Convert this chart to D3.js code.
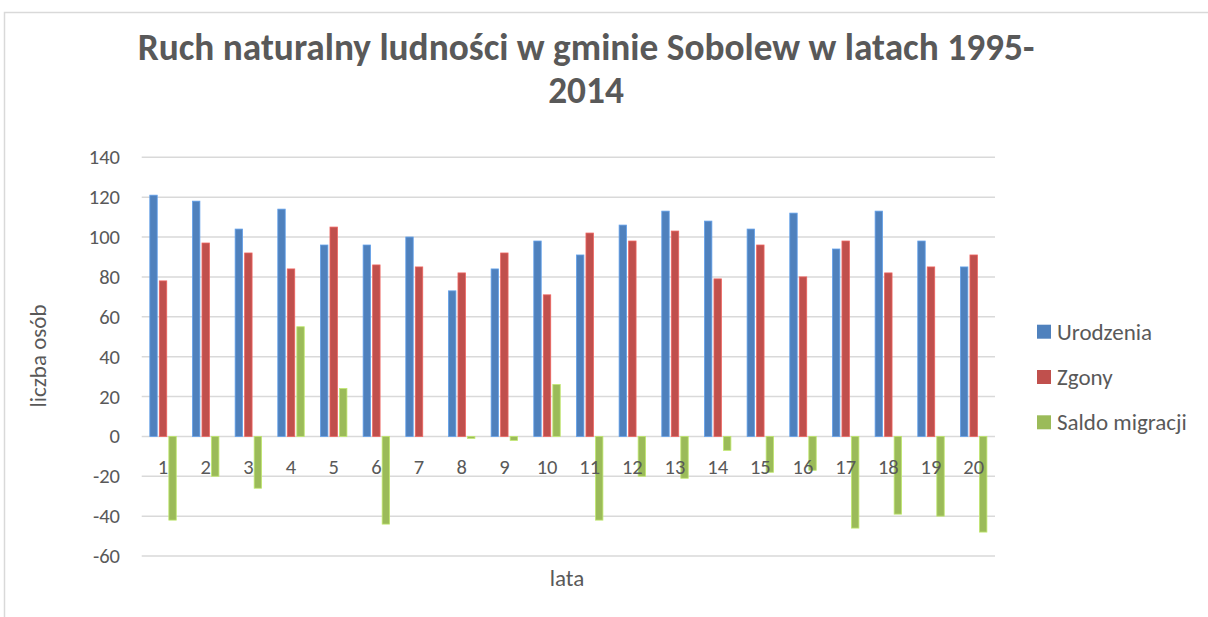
<!DOCTYPE html>
<html>
<head>
<meta charset="utf-8">
<script src="https://cdn.jsdelivr.net/npm/d3@7"></script>
<style>
  body { margin: 0; background: #fff; }
  svg { display: block; font-family: Calibri, Carlito, Lato, "Open Sans", sans-serif; }
</style>
</head>
<body>
<svg id="chart" width="1208" height="617"></svg>
<script>
// lata 1..20 (1995-2014)
const years = d3.range(1, 21).map(String);
const seriesNames = ["Urodzenia", "Zgony", "Saldo migracji"];
const colors = ["#4F81BD", "#C0504D", "#9BBB59"];

const urodzenia = [121, 118, 104, 114, 96, 96, 100, 73, 84, 98, 91, 106, 113, 108, 104, 112, 94, 113, 98, 85];
const zgony = [78, 97, 92, 84, 105, 86, 85, 82, 92, 71, 102, 98, 103, 79, 96, 80, 98, 82, 85, 91];
const saldo = [-42, -20, -26, 55, 24, -44, 0, -1, -2, 26, -42, -20, -21, -7, -18, -17, -46, -39, -40, -48];

const yTicks = [-60, -40, -20, 0, 20, 40, 60, 80, 100, 120, 140];

const seriesValues = [urodzenia, zgony, saldo];

const W = 1208, H = 617;
const margin = { left: 141.7, right: 995, top: 157.3, bottom: 556 };

const svg = d3.select("#chart");

// ramka wykresu
svg.append("rect")
  .attr("x", 4.5).attr("y", 12.5)
  .attr("width", W + 20).attr("height", H + 20)
  .attr("fill", "none")
  .attr("stroke", "#d9d9d9")
  .attr("stroke-width", 1.5);

const x0 = d3.scaleBand().domain(years).range([margin.left, margin.right]);
const groupW = x0.bandwidth() * 0.62;
const x1 = d3.scaleBand().domain(seriesNames).range([0, groupW]).paddingInner(0.22);
const y = d3.scaleLinear().domain([-60, 140]).range([margin.bottom, margin.top]);

// siatka
svg.append("g")
  .selectAll("line")
  .data(yTicks)
  .join("line")
  .attr("x1", margin.left).attr("x2", margin.right)
  .attr("y1", (d) => y(d)).attr("y2", (d) => y(d))
  .attr("stroke", "#d9d9d9")
  .attr("stroke-width", 1.5);

// etykiety osi Y
svg.append("g")
  .selectAll("text")
  .data(yTicks)
  .join("text")
  .attr("x", 120)
  .attr("y", (d) => y(d))
  .attr("text-anchor", "end")
  .attr("dominant-baseline", "central")
  .attr("fill", "#595959")
  .style("font-size", "20.5px")
  .text((d) => d);

// słupki
const groups = svg.append("g")
  .selectAll("g")
  .data(years)
  .join("g")
  .attr("transform", (d) => `translate(${x0(d) + (x0.bandwidth() - groupW) / 2},0)`);

groups.selectAll("rect")
  .data((d, i) => seriesNames.map((s, k) => ({ s, k, v: seriesValues[k][i] })))
  .join("rect")
  .attr("x", (d) => x1(d.s))
  .attr("width", x1.bandwidth())
  .attr("y", (d) => y(Math.max(0, d.v)))
  .attr("height", (d) => Math.abs(y(d.v) - y(0)))
  .attr("fill", (d) => colors[d.k])
  .attr("stroke", (d) => d3.rgb(colors[d.k]).brighter(0.6))
  .attr("stroke-width", 0.8);

// etykiety osi X (przy linii zera)
svg.append("g")
  .selectAll("text")
  .data(years)
  .join("text")
  .attr("x", (d) => x0(d) + x0.bandwidth() / 2)
  .attr("y", y(0) + 31)
  .attr("text-anchor", "middle")
  .attr("dominant-baseline", "central")
  .attr("fill", "#595959")
  .style("font-size", "20.5px")
  .text((d) => d);

// tytuł
const title = svg.append("text")
  .attr("x", 586)
  .attr("text-anchor", "middle")
  .attr("fill", "#595959")
  .style("font-size", "31px")
  .style("font-weight", "bold");
title.append("tspan").attr("x", 586).attr("y", 60).text("Ruch naturalny ludności w gminie Sobolew w latach 1995-");
title.append("tspan").attr("x", 586).attr("y", 103).text("2014");

// dopasowanie szerokości tytułu
const tw = title.node().getBBox().width;
const targetW = 897;
title.style("font-size", (31 * targetW / tw).toFixed(2) + "px");

// tytuły osi
svg.append("text")
  .attr("transform", "translate(38,356) rotate(-90)")
  .attr("text-anchor", "middle")
  .attr("dominant-baseline", "central")
  .attr("fill", "#595959")
  .style("font-size", "23px")
  .text("liczba osób");

svg.append("text")
  .attr("x", 567)
  .attr("y", 578)
  .attr("text-anchor", "middle")
  .attr("dominant-baseline", "central")
  .attr("fill", "#595959")
  .style("font-size", "23px")
  .text("lata");

// legenda
const legend = svg.append("g")
  .selectAll("g")
  .data(seriesNames)
  .join("g")
  .attr("transform", (d, i) => `translate(1037,${331.7 + i * 45.3})`);

legend.append("rect")
  .attr("x", 0).attr("y", -7)
  .attr("width", 14).attr("height", 14)
  .attr("fill", (d, i) => colors[i]);

legend.append("text")
  .attr("x", 20)
  .attr("y", 0)
  .attr("dominant-baseline", "central")
  .attr("fill", "#595959")
  .style("font-size", "23px")
  .text((d) => d);
</script>
</body>
</html>
